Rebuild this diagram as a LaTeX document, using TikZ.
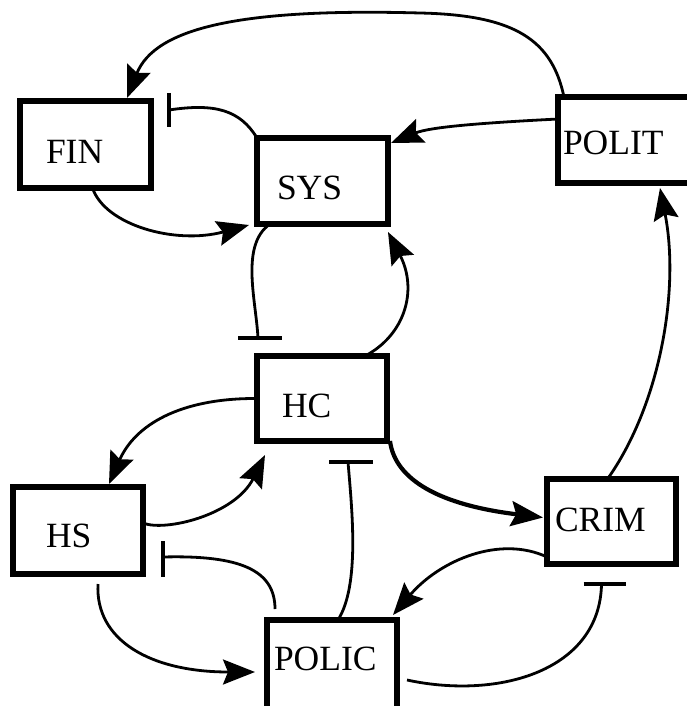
\documentclass[tikz,border=0pt]{standalone}
\usepackage{fontspec}
\newfontfamily\lblfont{Liberation Serif}
\usetikzlibrary{arrows.meta,calc}
\begin{document}
\begin{tikzpicture}[x=1pt,y=-1pt,
  box/.style={draw, line width=5.5pt, inner sep=0pt, outer sep=0pt},
  lbl/.style={anchor=base west, inner sep=0pt, outer sep=0pt, font=\lblfont\fontsize{35.5}{40}\selectfont},
  edge/.style={line width=2.8pt},
  arr/.style={edge, -{Stealth[length=32pt,width=25pt,inset=5pt]}},
  thickarr/.style={line width=4.2pt, -{Stealth[length=32pt,width=25pt,inset=5pt]}},
  barline/.style={line width=4.5pt},
]
\useasboundingbox (0,0) rectangle (687,706);
% boxes
\node[box, minimum width=131pt, minimum height=87pt] (fin) at (85.5,144.5) {};
\node[box, minimum width=131pt, minimum height=86pt] (sys) at (322.5,181) {};
\node[box, minimum width=134pt, minimum height=86pt] (polit) at (625,140) {};
\node[box, minimum width=130pt, minimum height=85pt] (hc) at (322,398.5) {};
\node[box, minimum width=130pt, minimum height=87pt] (hs) at (78,530.5) {};
\node[box, minimum width=129pt, minimum height=85pt] (crim) at (611.5,521.5) {};
\node[box, minimum width=130pt, minimum height=90pt] (polic) at (332,665) {};
% labels
\node[lbl] (finl) at (46,163) {FIN};
\node[lbl] (sysl) at (277,199) {SYS};
\node[lbl] (politl) at (563,154) {POLIT};
\node[lbl] (hcl) at (282,417) {HC};
\node[lbl] (hsl) at (46,547) {HS};
\node[lbl] (criml) at (555,531) {CRIM};
\node[lbl] (policl) at (274,670) {POLIC};
% bar end points
\coordinate (finbar) at ($(fin.north east)+(18,9)$);
\coordinate (hcbarA) at ($(hc.north west)+(1,-18)$);
\coordinate (hsbar) at ($(hs.south east)+(20,-17)$);
\coordinate (hcbarB) at ($(hc.south)+(26,21)$);
\coordinate (crimbar) at ($(crim.south)+(-10,20)$);
% POLIT -> FIN
\draw[arr] ($(polit.north west)+(6,0)$) .. controls (552,40) and (515,15) .. (420,13)
  .. controls (240,8) and (155,28) .. ($(fin.north)+(41.5,-3)$);
% POLIT -> SYS
\draw[arr] ($(polit.west)+(0,-21)$) .. controls (480,123) and (430,127) .. ($(sys.north east)+(3,5)$);
% SYS -| FIN
\draw[edge] (sys.north west) .. controls (240,110) and (215,103) .. (finbar);
\draw[barline] ($(finbar)+(0,-17)$) -- ($(finbar)+(0,17)$);
% FIN -> SYS
\draw[arr] ($(fin.south)+(7,0)$) .. controls (105,225) and (175,245) .. ($(sys.south west)+(-8,1)$);
% SYS -| HC
\draw[edge] ($(sys.south west)+(13,0)$) .. controls (240,245) and (256,300) .. (hcbarA);
\draw[barline] ($(hcbarA)+(-20,0)$) -- ($(hcbarA)+(24,0)$);
% HC -> SYS
\draw[arr] ($(hc.north)+(43,0)$) .. controls (405,335) and (418,290) .. ($(sys.south east)+(0,8)$);
% HC -> HS
\draw[arr] (hc.west) .. controls (180,398) and (135,425) .. ($(hs.north)+(31,-3)$);
% HS -> HC
\draw[arr] ($(hs.east)+(0,-7.5)$) .. controls (165,532) and (235,515) .. ($(hc.south west)+(8,14)$);
% POLIC -| HS
\draw[edge] ($(polic.north west)+(8,-11)$) .. controls (275,570) and (240,555) .. (hsbar);
\draw[barline] ($(hsbar)+(0,-16)$) -- ($(hsbar)+(0,20)$);
% HS -> POLIC
\draw[arr] ($(hs.south)+(20,10)$) .. controls (95,640) and (150,672) .. ($(polic.west)+(-12,7)$);
% POLIC -| HC
\draw[edge] ($(polic.north)+(6,0)$) .. controls (360,585) and (352,510) .. (hcbarB);
\draw[barline] ($(hcbarB)+(-19,0)$) -- ($(hcbarB)+(25,0)$);
% HC -> CRIM
\draw[thickarr] ($(hc.south east)+(3,0)$) .. controls (395,480) and (440,505) .. ($(crim.west)+(-4,-4)$);
% CRIM -> POLIT
\draw[arr] ($(crim.north)+(-4,0)$) .. controls (660,405) and (680,290) .. ($(polit.south)+(35,5)$);
% CRIM -> POLIC
\draw[arr] ($(crim.south west)+(0,-7)$) .. controls (500,535) and (440,560) .. ($(polic.north east)+(-4,-5)$);
% POLIC -| CRIM
\draw[edge] ($(polic.east)+(10,15)$) .. controls (500,700) and (600,670) .. (crimbar);
\draw[barline] ($(crimbar)+(-18,0)$) -- ($(crimbar)+(24,0)$);
\end{tikzpicture}
\end{document}
